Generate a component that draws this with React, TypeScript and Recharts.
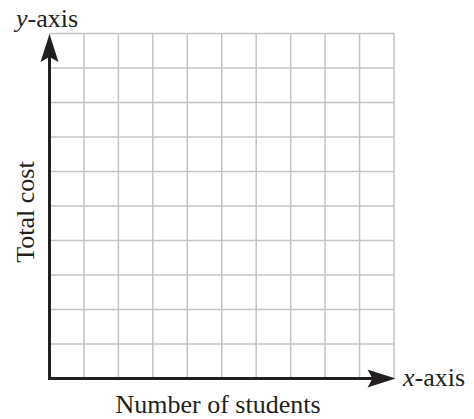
import { ComposedChart, XAxis, YAxis, CartesianGrid, ReferenceLine, Customized } from "recharts";

// blank grid: 10 x 10 units, no plotted values
const xTicks = [0, 1, 2, 3, 4, 5, 6, 7, 8, 9, 10];
const yTicks = [0, 1, 2, 3, 4, 5, 6, 7, 8, 9, 10];
const xLabel = "Number of students";
const yLabel = "Total cost";

const gridRows = xTicks.map((x, i) => ({ x, y: yTicks[i] }));

const FONT = "'Liberation Serif', 'Times New Roman', serif";
const INK = "#231f20";

const YArrow = (props: any) => {
  const { x1, y1, y2 } = props;
  const bottom = Math.max(y1, y2) + 1.5;
  const tip = Math.min(y1, y2) + 0.5;
  const x = x1;
  return (
    <g>
      <line x1={x} y1={bottom} x2={x} y2={tip + 20} stroke={INK} strokeWidth={3} />
      <polygon
        points={`${x},${tip} ${x + 9},${tip + 28} ${x},${tip + 23} ${x - 9},${tip + 28}`}
        fill={INK}
      />
    </g>
  );
};

const XArrow = (props: any) => {
  const { x1, y1, x2 } = props;
  const left = Math.min(x1, x2) - 1.5;
  const tip = Math.max(x1, x2) + 1.5;
  const y = y1;
  return (
    <g>
      <line x1={left} y1={y} x2={tip - 20} y2={y} stroke={INK} strokeWidth={3} />
      <polygon
        points={`${tip},${y} ${tip - 28},${y - 9} ${tip - 23},${y} ${tip - 28},${y + 9}`}
        fill={INK}
      />
    </g>
  );
};

const Labels = () => (
  <g fontFamily={FONT} fontSize={26} fill={INK}>
    <text x={16} y={27}>
      <tspan fontStyle="italic">y</tspan>-axis
    </text>
    <text x={403} y={386}>
      <tspan fontStyle="italic">x</tspan>-axis
    </text>
    <text x={218} y={413} textAnchor="middle">{xLabel}</text>
    <text x={34} y={212} textAnchor="middle" transform="rotate(-90 34 212)">{yLabel}</text>
  </g>
);

export default function App() {
  return (
    <div style={{ position: "absolute", left: 0, top: 0, background: "#fff" }}>
      <ComposedChart
        width={474}
        height={419}
        data={gridRows}
        margin={{ top: 33.5, right: 80, bottom: 40.5, left: 49.5 }}
      >
        <XAxis type="number" dataKey="x" domain={[0, 10]} ticks={xTicks} hide />
        <YAxis type="number" dataKey="y" domain={[0, 10]} ticks={yTicks} hide width={0} />
        <CartesianGrid stroke="#c4c4c4" strokeWidth={1.5} />
        <ReferenceLine
          segment={[{ x: 0, y: 0 }, { x: 0, y: 10 }]}
          shape={YArrow}
          ifOverflow="visible"
        />
        <ReferenceLine
          segment={[{ x: 0, y: 0 }, { x: 10, y: 0 }]}
          shape={XArrow}
          ifOverflow="visible"
        />
        <Customized component={Labels} />
      </ComposedChart>
    </div>
  );
}
